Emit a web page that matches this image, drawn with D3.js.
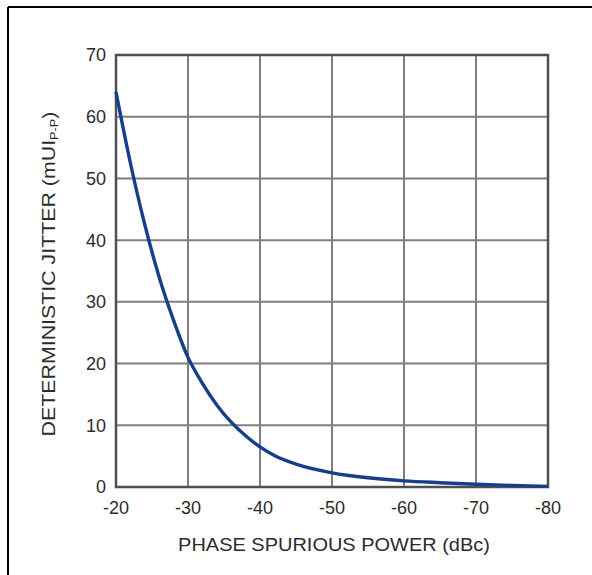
<!DOCTYPE html>
<html>
<head>
<meta charset="utf-8">
<script src="https://cdn.jsdelivr.net/npm/d3@7"></script>
<style>
  body { margin: 0; background: #fff; }
  text { font-family: "Liberation Sans", Arial, sans-serif; fill: #2b2b2b; }
</style>
</head>
<body>
<svg width="592" height="575"></svg>
<script>
// spur power (dBc) vs deterministic jitter (mUI p-p)
var spurPower = [-20, -22, -24, -26, -28, -30, -32, -34, -36, -38, -40, -42, -45, -50, -55, -60, -65, -70, -75, -80];
var jitter    = [64, 52.5, 42.5, 34, 27, 21, 16.8, 13.3, 10.5, 8.3, 6.5, 5.1, 3.7, 2.3, 1.5, 1.0, 0.7, 0.45, 0.25, 0.1];
var xTicks = [-20, -30, -40, -50, -60, -70, -80];
var yTicks = [0, 10, 20, 30, 40, 50, 60, 70];

var svg = d3.select("svg");

// page frame
svg.append("line").attr("x1", 8).attr("x2", 592).attr("y1", 7).attr("y2", 7)
    .attr("stroke", "#000").attr("stroke-width", 2);
svg.append("line").attr("x1", 8).attr("x2", 8).attr("y1", 7).attr("y2", 575)
    .attr("stroke", "#000").attr("stroke-width", 2);

var plotLeft = 116, plotTop = 55, w = 432, h = 432;

var x = d3.scaleLinear().domain([-20, -80]).range([plotLeft, plotLeft + w]);
var y = d3.scaleLinear().domain([0, 70]).range([plotTop + h, plotTop]);

var grid = svg.append("g");
grid.selectAll(".gx").data(xTicks).enter().append("line")
    .attr("x1", function(d) { return x(d); }).attr("x2", function(d) { return x(d); })
    .attr("y1", plotTop).attr("y2", plotTop + h)
    .attr("stroke", "#7f7f7f").attr("stroke-width", 2);
grid.selectAll(".gy").data(yTicks).enter().append("line")
    .attr("x1", plotLeft).attr("x2", plotLeft + w)
    .attr("y1", function(d) { return y(d); }).attr("y2", function(d) { return y(d); })
    .attr("stroke", "#7f7f7f").attr("stroke-width", 2);

svg.append("rect").attr("x", plotLeft).attr("y", plotTop).attr("width", w).attr("height", h)
    .attr("fill", "none").attr("stroke", "#505050").attr("stroke-width", 2.5);

// tick labels
svg.selectAll(".ty").data(yTicks).enter().append("text")
    .attr("x", plotLeft - 10).attr("y", function(d) { return y(d); })
    .attr("dy", "0.36em").attr("text-anchor", "end")
    .style("font-size", "18px").text(function(d) { return d; });
svg.selectAll(".tx").data(xTicks).enter().append("text")
    .attr("x", function(d) { return x(d); }).attr("y", plotTop + h + 27)
    .attr("text-anchor", "middle")
    .style("font-size", "18px").text(function(d) { return d; });

// axis titles, stretched out to the drawn width
function stretch(sel, target) {
  var len = sel.node().getComputedTextLength();
  return target / len;
}

var xt = svg.append("text").attr("text-anchor", "middle")
    .style("font-size", "19px").text("PHASE SPURIOUS POWER (dBc)");
var sx = stretch(xt, 312);
xt.attr("transform", "translate(334,551) scale(" + sx + ",1)");

var yt = svg.append("text").attr("text-anchor", "middle").style("font-size", "18.5px");
yt.append("tspan").text("DETERMINISTIC JITTER (mUI");
yt.append("tspan").attr("dy", 3).style("font-size", "11px").text("P-P");
yt.append("tspan").attr("dy", -3).text(")");
var sy = stretch(yt, 325);
yt.attr("transform", "translate(55,274) rotate(-90) scale(" + sy + ",1)");

// curve
var line = d3.line()
    .x(function(d, i) { return x(spurPower[i]); })
    .y(function(d) { return y(d); })
    .curve(d3.curveMonotoneX);

svg.append("path").datum(jitter)
    .attr("d", line)
    .attr("fill", "none").attr("stroke", "#143f8a").attr("stroke-width", 3.4);
</script>
</body>
</html>
